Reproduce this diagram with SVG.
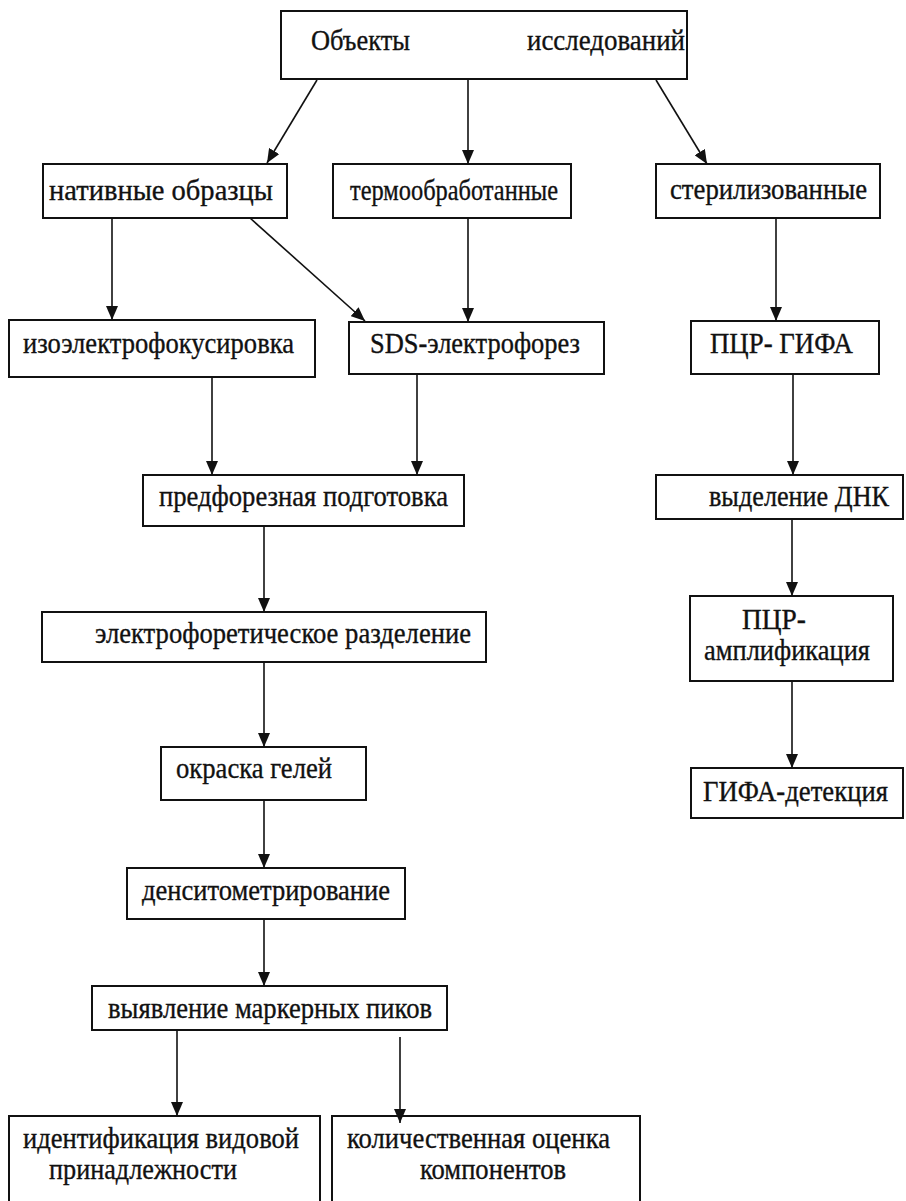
<svg xmlns="http://www.w3.org/2000/svg" width="906" height="1201" viewBox="0 0 906 1201">
<defs>
<style>
.box{fill:#fff;stroke:#111;stroke-width:2}
.t{font-family:'Liberation Serif','DejaVu Serif',serif;font-size:29px;fill:#111;stroke:#111;stroke-width:0.35}
.c line{stroke:#111;stroke-width:1.6;marker-end:url(#ah)}
</style>
<marker id="ah" markerUnits="userSpaceOnUse" markerWidth="14" markerHeight="12" viewBox="0 0 14 12" refX="14" refY="6" orient="auto">
<path d="M0,0 L14,6 L0,12 Z" fill="#111"/>
</marker>
</defs>
<rect width="906" height="1201" fill="#fff"/>
<g font-family="Liberation Serif, serif">
<g id="n-objects"><rect class="box" x="281" y="11" width="406" height="68"/><text class="t" x="311" y="50" textLength="99" lengthAdjust="spacingAndGlyphs">Объекты</text><text class="t" x="527" y="50" textLength="158" lengthAdjust="spacingAndGlyphs">исследований</text></g>
<g id="n-native"><rect class="box" x="43" y="164" width="244" height="54"/><text class="t" x="49" y="200" textLength="224" lengthAdjust="spacingAndGlyphs">нативные образцы</text></g>
<g id="n-thermo"><rect class="box" x="333" y="164" width="238" height="54"/><text class="t" x="350" y="200" textLength="208" lengthAdjust="spacingAndGlyphs">термообработанные</text></g>
<g id="n-steril"><rect class="box" x="656" y="164" width="224" height="54"/><text class="t" x="670" y="199" textLength="197" lengthAdjust="spacingAndGlyphs">стерилизованные</text></g>
<g id="n-ief"><rect class="box" x="9" y="320" width="306" height="57"/><text class="t" x="23" y="353" textLength="271" lengthAdjust="spacingAndGlyphs">изоэлектрофокусировка</text></g>
<g id="n-sds"><rect class="box" x="349" y="322" width="255" height="52"/><text class="t" x="370" y="353" textLength="210" lengthAdjust="spacingAndGlyphs">SDS-электрофорез</text></g>
<g id="n-pcrgifa"><rect class="box" x="691" y="321" width="188" height="53"/><text class="t" x="710" y="353" textLength="143" lengthAdjust="spacingAndGlyphs">ПЦР- ГИФА</text></g>
<g id="n-prep"><rect class="box" x="143" y="475" width="321" height="51"/><text class="t" x="159" y="506" textLength="289" lengthAdjust="spacingAndGlyphs">предфорезная подготовка</text></g>
<g id="n-dna"><rect class="box" x="656" y="475" width="247" height="44"/><text class="t" x="709" y="506" textLength="180" lengthAdjust="spacingAndGlyphs">выделение ДНК</text></g>
<g id="n-electro"><rect class="box" x="42" y="612" width="444" height="50"/><text class="t" x="95" y="643" textLength="376" lengthAdjust="spacingAndGlyphs">электрофоретическое разделение</text></g>
<g id="n-ampl"><rect class="box" x="690" y="596" width="203" height="85"/><text class="t" x="742" y="629" textLength="64" lengthAdjust="spacingAndGlyphs">ПЦР-</text><text class="t" x="704" y="660" textLength="166" lengthAdjust="spacingAndGlyphs">амплификация</text></g>
<g id="n-stain"><rect class="box" x="161" y="747" width="205" height="53"/><text class="t" x="176" y="778" textLength="156" lengthAdjust="spacingAndGlyphs">окраска гелей</text></g>
<g id="n-detect"><rect class="box" x="691" y="768" width="212" height="50"/><text class="t" x="703" y="801" textLength="185" lengthAdjust="spacingAndGlyphs">ГИФА-детекция</text></g>
<g id="n-dens"><rect class="box" x="127" y="868" width="278" height="51"/><text class="t" x="142" y="900" textLength="248" lengthAdjust="spacingAndGlyphs">денситометрирование</text></g>
<g id="n-peaks"><rect class="box" x="92" y="986" width="355" height="44"/><text class="t" x="108" y="1018" textLength="324" lengthAdjust="spacingAndGlyphs">выявление маркерных пиков</text></g>
<g id="n-ident"><rect class="box" x="9" y="1116" width="311" height="95"/><text class="t" x="23" y="1148" textLength="276" lengthAdjust="spacingAndGlyphs">идентификация видовой</text><text class="t" x="49" y="1179" textLength="188" lengthAdjust="spacingAndGlyphs">принадлежности</text></g>
<g id="n-quant"><rect class="box" x="332" y="1116" width="308" height="95"/><text class="t" x="347" y="1148" textLength="263" lengthAdjust="spacingAndGlyphs">количественная оценка</text><text class="t" x="420" y="1179" textLength="146" lengthAdjust="spacingAndGlyphs">компонентов</text></g>
</g>
<g id="connectors" class="c">
<line x1="317" y1="80" x2="267" y2="163"/>
<line x1="468" y1="80" x2="468" y2="164"/>
<line x1="656" y1="80" x2="707" y2="164"/>
<line x1="112" y1="218" x2="112" y2="320"/>
<line x1="250" y1="218" x2="365" y2="321"/>
<line x1="468" y1="218" x2="468" y2="322"/>
<line x1="776" y1="218" x2="776" y2="321"/>
<line x1="212" y1="377" x2="212" y2="475"/>
<line x1="417" y1="374" x2="417" y2="475"/>
<line x1="793" y1="374" x2="793" y2="475"/>
<line x1="264" y1="526" x2="264" y2="612"/>
<line x1="792" y1="519" x2="792" y2="596"/>
<line x1="264" y1="662" x2="264" y2="747"/>
<line x1="792" y1="681" x2="792" y2="768"/>
<line x1="264" y1="800" x2="264" y2="868"/>
<line x1="264" y1="919" x2="264" y2="986"/>
<line x1="177" y1="1030" x2="177" y2="1116"/>
<line x1="400" y1="1037" x2="400" y2="1123"/>
</g>
</svg>
